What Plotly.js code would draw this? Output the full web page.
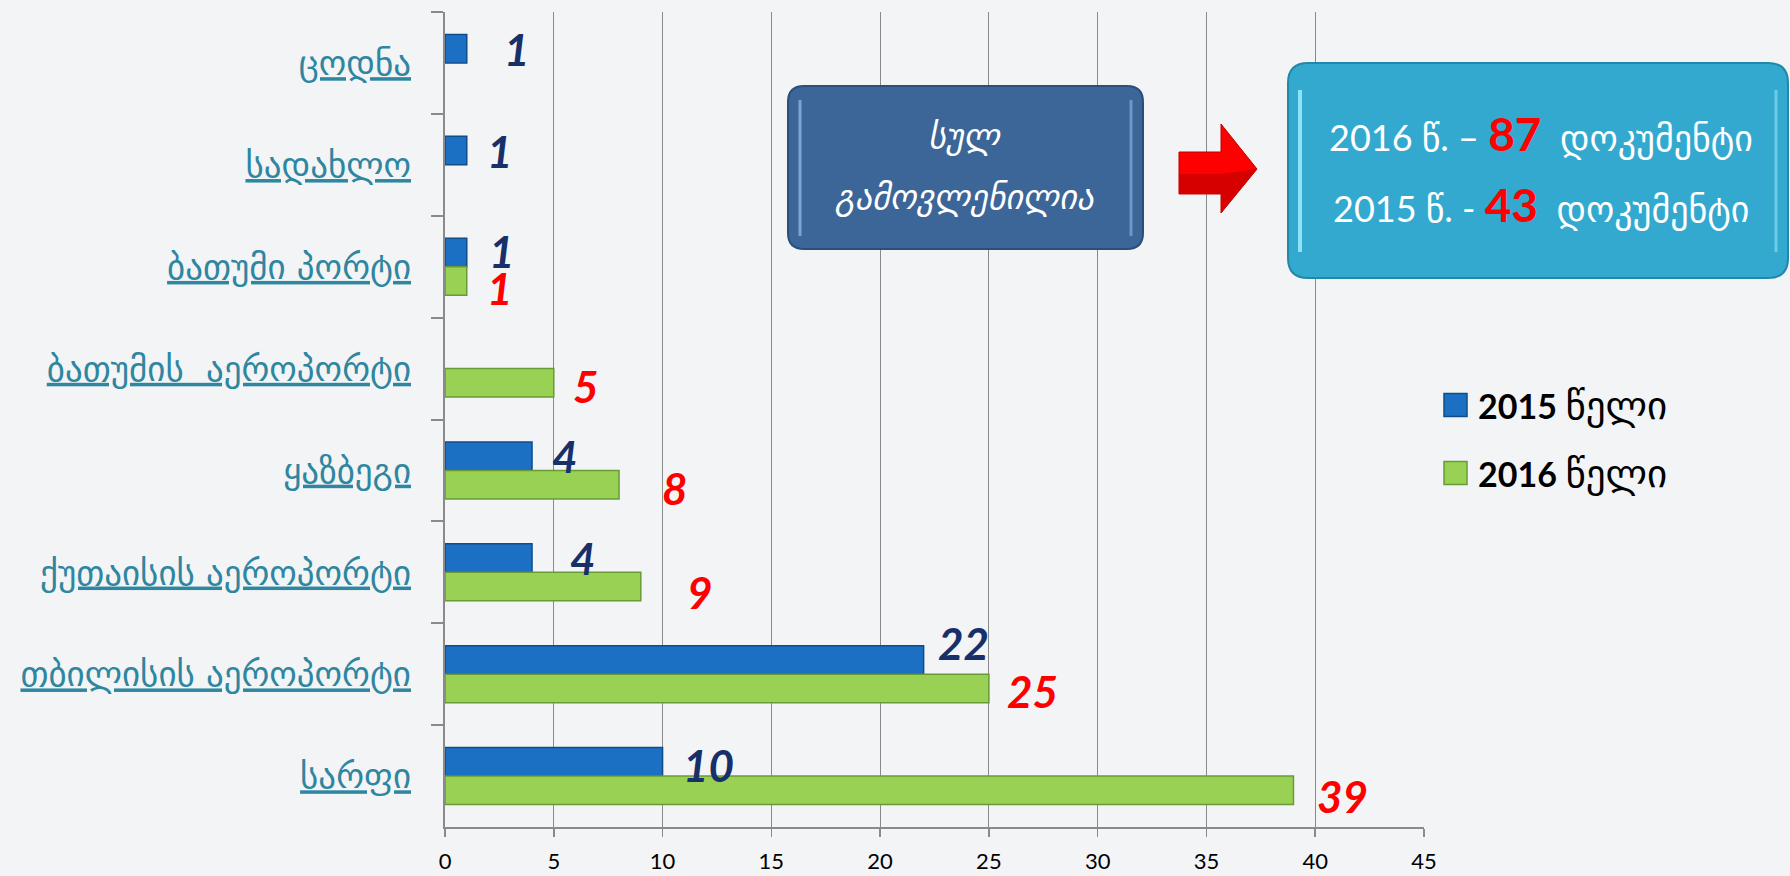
<!DOCTYPE html>
<html>
<head>
<meta charset="utf-8">
<script src="https://cdn.plot.ly/plotly-3.0.1.min.js"></script>
<style>
  html, body { margin: 0; padding: 0; background: #f3f4f6; }
  #chart { width: 1790px; height: 876px; }
</style>
</head>
<body>
<div id="chart"></div>
<script>
// ---------------- data ----------------
const categories = ['ცოდნა', 'სადახლო', 'ბათუმი პორტი', 'ბათუმის  აეროპორტი', 'ყაზბეგი', 'ქუთაისის აეროპორტი', 'თბილისის აეროპორტი', 'სარფი'];
const values2015 = [1, 1, 1, null, 4, 4, 22, 10];
const values2016 = [null, null, 1, 5, 8, 9, 25, 39];
const seriesNames = ['2015 წელი', '2016 წელი'];
const summaryTitle = ['სულ', 'გამოვლენილია'];
const summaryYears = ['2016', '2015'];
const summaryDashes = ['–', '-'];
const summaryUnit = 'დოკუმენტი';

// ---------------- styles / positions (not data) ----------------
const blue = '#1b70c4', blueLine = '#0f4c8c';
const green = '#98d153', greenLine = '#6a9a35';
const labelDx2015 = [35, 18, 20, 0, 18, 36, 12, 18];
const labelDy2015 = [0, 0, 2, 0, 0, 0, 17, -3];
const labelDx2016 = [0, 0, 18, 17, 41, 44, 16, 22];
const labelDy2016 = [0, 0, -7, -3, -4, -6, -3, -6];

const L = 445, R = 1424, T = 12, B = 827, W = 1790, H = 876;
const px = x => (x - L) / (R - L);
const py = y => (B - y) / (B - T);
function pathFrom(points) {
  return points.map(p => {
    if (p === 'Z') return 'Z';
    const c = p[0]; let s = c;
    for (let i = 1; i < p.length; i += 2) s += (i > 1 ? ' ' : '') + px(p[i]).toFixed(5) + ',' + py(p[i + 1]).toFixed(5);
    return s;
  }).join(' ');
}
function roundRect(x0, y0, x1, y1, r) {
  return pathFrom([
    ['M', x0 + r, y0], ['L', x1 - r, y0], ['Q', x1, y0, x1, y0 + r],
    ['L', x1, y1 - r], ['Q', x1, y1, x1 - r, y1], ['L', x0 + r, y1],
    ['Q', x0, y1, x0, y1 - r], ['L', x0, y0 + r], ['Q', x0, y0, x0 + r, y0], 'Z'
  ]);
}
const sum = a => a.reduce((s, v) => s + (v || 0), 0);
const summaryCounts = [sum(values2016), sum(values2015)];

// ---------------- traces ----------------
const traces = [
  {
    type: 'bar', orientation: 'h', name: seriesNames[0],
    y: categories, x: values2015,
    marker: { color: blue, line: { color: blueLine, width: 1.5 } },
    hoverinfo: 'x+name'
  },
  {
    type: 'bar', orientation: 'h', name: seriesNames[1],
    y: categories, x: values2016,
    marker: { color: green, line: { color: greenLine, width: 1.5 } },
    hoverinfo: 'x+name'
  }
];

// ---------------- annotations ----------------
const annotations = [];
const labelFont = (c) => ({ family: 'Lato, DejaVu Sans', size: 44, color: c, weight: 'bold', style: 'italic' });
categories.forEach((c, i) => {
  if (values2015[i] != null) annotations.push({
    x: values2015[i], y: c, xref: 'x', yref: 'y', text: String(values2015[i]),
    showarrow: false, xanchor: 'left', yanchor: 'middle',
    xshift: labelDx2015[i], yshift: 14 + labelDy2015[i], font: labelFont('#17306a')
  });
  if (values2016[i] != null) annotations.push({
    x: values2016[i], y: c, xref: 'x', yref: 'y', text: String(values2016[i]),
    showarrow: false, xanchor: 'left', yanchor: 'middle',
    xshift: labelDx2016[i], yshift: -14 + labelDy2016[i], font: labelFont('#ff0000')
  });
});

// summary dark box text
[136, 197].forEach((yy, i) => {
  annotations.push({ xref: 'paper', yref: 'paper', x: px(965), y: py(yy), xanchor: 'center', yanchor: 'middle',
    text: summaryTitle[i], showarrow: false,
    font: { family: 'DejaVu Sans', size: 34, color: '#ffffff', style: 'italic' } });
});

// summary cyan box text
const lineY = [133, 205];
summaryYears.forEach((yr, i) => {
  annotations.push({
    xref: 'paper', yref: 'paper', x: px(1541), y: py(lineY[i]), xanchor: 'center', yanchor: 'middle', showarrow: false,
    text: yr + ' წ. ' + summaryDashes[i] + ' <b><span style="color:#ff0000;font-size:46px">' + summaryCounts[i] + '</span></b>\u00a0\u00a0' + summaryUnit,
    font: { family: 'Lato, DejaVu Sans', size: 36, color: '#ffffff' }
  });
});

// custom legend
const legendY = [405, 473];
const legendColors = [[blue, blueLine], [green, greenLine]];
const shapes = [];
seriesNames.forEach((n, i) => {
  const parts = n.split(' ');
  shapes.push({ type: 'rect', xref: 'paper', yref: 'paper', x0: px(1444), x1: px(1467), y0: py(legendY[i] - 11.5), y1: py(legendY[i] + 11.5),
    fillcolor: legendColors[i][0], line: { color: legendColors[i][1], width: 1.5 } });
  annotations.push({ xref: 'paper', yref: 'paper', x: px(1476), y: py(legendY[i]), xanchor: 'left', yanchor: 'middle',
    text: '<b>' + parts[0] + '</b> <span style="font-family:DejaVu Sans;font-size:39px">' + parts.slice(1).join(' ') + '</span>',
    showarrow: false, font: { family: 'Lato, DejaVu Sans', size: 34, color: '#000000' } });
});

// boxes and arrow (decorations)
shapes.push({ type: 'path', xref: 'paper', yref: 'paper', path: roundRect(788, 86, 1143, 249, 16),
  fillcolor: '#3c6598', line: { color: '#2b4e7b', width: 2 }, layer: 'above' });
shapes.push({ type: 'path', xref: 'paper', yref: 'paper', path: pathFrom([['M', 800, 100], ['L', 800, 236]]),
  line: { color: '#7aa6d6', width: 3 }, layer: 'above' });
shapes.push({ type: 'path', xref: 'paper', yref: 'paper', path: pathFrom([['M', 1131, 100], ['L', 1131, 236]]),
  line: { color: '#6f98c8', width: 3 }, layer: 'above' });

shapes.push({ type: 'path', xref: 'paper', yref: 'paper', path: roundRect(1288, 63, 1788, 278, 20),
  fillcolor: '#33a9cf', line: { color: '#2487a9', width: 2 }, layer: 'above' });
shapes.push({ type: 'path', xref: 'paper', yref: 'paper', path: pathFrom([['M', 1300, 90], ['L', 1300, 252]]),
  line: { color: '#8ee3f6', width: 4 }, layer: 'above' });
shapes.push({ type: 'path', xref: 'paper', yref: 'paper', path: pathFrom([['M', 1776, 90], ['L', 1776, 252]]),
  line: { color: '#6ccbe6', width: 3 }, layer: 'above' });

shapes.push({ type: 'path', xref: 'paper', yref: 'paper',
  path: pathFrom([['M', 1179, 152], ['L', 1221, 152], ['L', 1221, 124], ['L', 1257, 169], ['L', 1221, 213], ['L', 1221, 194], ['L', 1179, 194], 'Z']),
  fillcolor: '#ff0000', line: { color: '#c00000', width: 1 }, layer: 'above' });
shapes.push({ type: 'path', xref: 'paper', yref: 'paper',
  path: pathFrom([['M', 1179, 174], ['L', 1221, 174], ['L', 1257, 169], ['L', 1221, 213], ['L', 1221, 194], ['L', 1179, 194], 'Z']),
  fillcolor: '#d60000', line: { width: 0 }, layer: 'above' });

const layout = {
  width: W, height: H,
  margin: { l: L, r: W - R, t: T, b: H - B, pad: 0 },
  paper_bgcolor: '#f3f4f6', plot_bgcolor: 'rgba(0,0,0,0)',
  barmode: 'group', bargap: 0.44, bargroupgap: 0,
  showlegend: false,
  xaxis: {
    range: [0, 45], dtick: 5, tick0: 0,
    showgrid: true, gridcolor: '#8a8a8a', gridwidth: 1,
    showline: true, linecolor: '#8a8a8a', linewidth: 2,
    ticks: 'outside', ticklen: 8, tickcolor: '#8a8a8a', tickwidth: 1.5,
    zeroline: false, ticklabelstandoff: 6,
    tickfont: { family: 'Lato', size: 22, color: '#000000' }
  },
  yaxis: {
    type: 'category', autorange: 'reversed',
    showgrid: false, showline: true, linecolor: '#8a8a8a', linewidth: 2,
    ticks: 'outside', ticklen: 12, tickcolor: '#8a8a8a', tickwidth: 2, tickson: 'boundaries',
    ticklabelstandoff: 25,
    tickfont: { family: 'DejaVu Sans', size: 35, color: '#2e86a1', lineposition: 'under' }
  },
  annotations: annotations,
  shapes: shapes
};

Plotly.newPlot('chart', traces, layout, { displayModeBar: false, staticPlot: true });
</script>
</body>
</html>
